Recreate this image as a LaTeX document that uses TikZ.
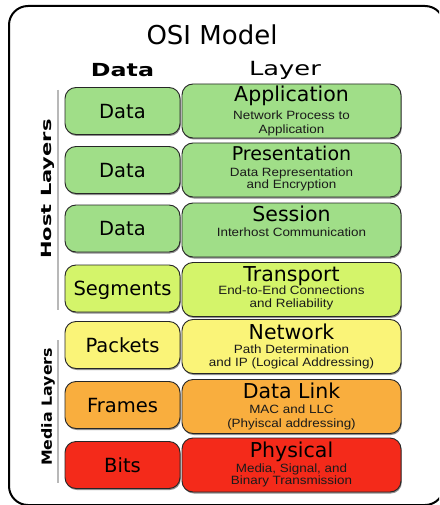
\documentclass[tikz,border=0pt]{standalone}
\usepackage{fontspec}
\setmainfont{DejaVu Sans}
\newfontfamily\subf[FakeStretch=1.12]{Liberation Sans}
\newfontfamily\hdrf[FakeStretch=1.32]{DejaVu Sans}
\usetikzlibrary{shadows}
\definecolor{cgreen}{HTML}{A0DE88}
\definecolor{clime}{HTML}{D4F46A}
\definecolor{cyellow}{HTML}{FAF478}
\definecolor{corange}{HTML}{F9AE3E}
\definecolor{cred}{HTML}{F42A1A}
\definecolor{csub}{HTML}{1A1A1A}
\begin{document}
\begin{tikzpicture}[x=1pt,y=-1pt,
  boxbase/.style={draw=black!85, line width=0.9pt, rounded corners=11pt, inner sep=0pt,
    drop shadow={shadow xshift=0.8pt, shadow yshift=-1.5pt, opacity=0.55, fill=black!80}},
  dbox/.style={boxbase, minimum width=115pt, minimum height=47pt,
    font=\fontsize{19.5}{20}\selectfont, text height=14.2pt, text depth=0pt},
  lbox/.style={boxbase, minimum width=219pt, minimum height=54pt},
  ltitle/.style={anchor=base, inner sep=0pt, font=\fontsize{20.5}{21}\selectfont},
  lsub/.style={anchor=base, inner sep=0pt, text=csub, font=\subf\fontsize{12}{13}\selectfont},
  sidelab/.style={rotate=90, inner sep=0pt, font=\bfseries\fontsize{14}{14}\selectfont},
  sideline/.style={draw=black!28, line width=2.6pt}
]
\useasboundingbox (0,0) rectangle (439,505);
\fill[white] (0,0) rectangle (439,505);
\begin{scope}
  \clip (0,0) rectangle (439,505);
  \draw[line width=2pt, rounded corners=19pt] (9,6) rectangle (444,505);
\end{scope}

% title and headers
\node[anchor=base, inner sep=0pt, font=\fontsize{26}{26}\selectfont] (title) at (212,45) {OSI Model};
\node[anchor=base, inner sep=0pt, font=\hdrf\bfseries\fontsize{18}{18}\selectfont] (hdata) at (122.5,77) {Data};
\node[anchor=base, inner sep=0pt, font=\hdrf\fontsize{19.5}{19.5}\selectfont] (hlayer) at (285,76) {Layer};

% side labels
\coordinate (hl1) at (58,90);
\coordinate (hl2) at (58,310);
\coordinate (ml1) at (58,340);
\coordinate (ml2) at (58,483);
\draw[sideline] (hl1) -- (hl2);
\draw[sideline] (ml1) -- (ml2);
\node[sidelab] (host) at (48,189) {\scalebox{1.5}[1]{Host Layers}};
\node[sidelab] (media) at (48,407) {\scalebox{1.13}[1]{Media Layers}};

% row 1
\node[dbox, fill=cgreen] (d1) at (122.5,111) {Data};
\node[lbox, fill=cgreen] (l1) at (291.5,111) {};
\node[ltitle] (t1) at (291.5,101.5) {Application};
\node[lsub] (s1a) at (291.5,120) {Network Process to};
\node[lsub] (s1b) at (291.5,133.5) {Application};
% row 2
\node[dbox, fill=cgreen] (d2) at (122.5,170) {Data};
\node[lbox, fill=cgreen] (l2) at (291.5,170) {};
\node[ltitle, font=\fontsize{19}{19}\selectfont] (t2) at (291.5,160.5) {Presentation};
\node[lsub] (s2a) at (291.5,176) {Data Representation};
\node[lsub] (s2b) at (291.5,188.5) {and Encryption};
% row 3
\node[dbox, fill=cgreen] (d3) at (122.5,228.5) {Data};
\node[lbox, fill=cgreen] (l3) at (291.5,230) {};
\node[ltitle] (t3) at (291.5,221.5) {Session};
\node[lsub] (s3a) at (291.5,236) {Interhost Communication};
% row 4
\node[dbox, fill=clime] (d4) at (122.5,288.5) {Segments};
\node[lbox, fill=clime] (l4) at (291.5,289.5) {};
\node[ltitle] (t4) at (291.5,281) {Transport};
\node[lsub] (s4a) at (291.5,294) {End-to-End Connections};
\node[lsub] (s4b) at (291.5,307.5) {and Reliability};
% row 5
\node[dbox, fill=cyellow] (d5) at (122.5,345) {Packets};
\node[lbox, fill=cyellow] (l5) at (291.5,346.5) {};
\node[ltitle] (t5) at (291.5,339) {Network};
\node[lsub] (s5a) at (291.5,353) {Path Determination};
\node[lsub] (s5b) at (291.5,366.5) {and IP (Logical Addressing)};
% row 6
\node[dbox, fill=corange] (d6) at (122.5,405) {Frames};
\node[lbox, fill=corange] (l6) at (291.5,406.5) {};
\node[ltitle] (t6) at (291.5,398) {Data Link};
\node[lsub] (s6a) at (291.5,413) {MAC and LLC};
\node[lsub] (s6b) at (291.5,427) {(Phyiscal addressing)};
% row 7
\node[dbox, fill=cred] (d7) at (122.5,465) {Bits};
\node[lbox, fill=cred] (l7) at (291.5,465) {};
\node[ltitle] (t7) at (291.5,457) {Physical};
\node[lsub] (s7a) at (291.5,472) {Media, Signal, and};
\node[lsub] (s7b) at (291.5,484.5) {Binary Transmission};
\end{tikzpicture}
\end{document}
